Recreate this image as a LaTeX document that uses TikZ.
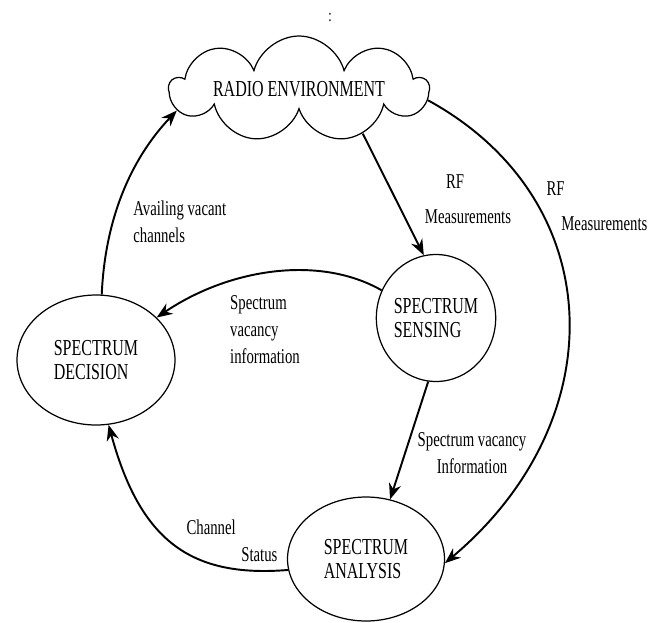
\documentclass[tikz,border=0pt]{standalone}
\usepackage{fontspec}
\setmainfont{Liberation Serif}[FakeStretch=0.7]
\usetikzlibrary{shapes.geometric,shapes.symbols,arrows.meta}

\tikzset{
  block/.style={ellipse,draw,line width=0.7pt,align=left,inner sep=0pt,
    font=\fontsize{13}{13.7}\selectfont},
  lbl/.style={align=left,inner sep=0pt,font=\fontsize{12}{15.4}\selectfont},
  arr/.style={-{Stealth[length=9pt,width=7pt]},line width=1.1pt},
}

\begin{document}
\begin{tikzpicture}[x=0.02cm,y=-0.02cm]

        \useasboundingbox (0,0) rectangle (661,622);

        \node (colon) at (330,18) {:};

        % the cloud and the three stages
        \node[cloud,draw,line width=0.7pt,cloud puffs=9,cloud ignores aspect,
          minimum width=5.16cm,minimum height=2.12cm,
          font=\fontsize{13}{13.7}\selectfont] (env) at (299,89) {RADIO ENVIRONMENT};
        \node[block,minimum width=3.16cm,minimum height=2.6cm]  (dec)  at (96,360)  {SPECTRUM\\DECISION};
        \node[block,minimum width=2.26cm,minimum height=2.54cm] (sens) at (436,318) {SPECTRUM\\SENSING};
        \node[block,minimum width=3.14cm,minimum height=2.48cm] (ana)  at (366,559) {SPECTRUM\\ANALYSIS};

        % connectors
        \draw[arr] (env.-35) -- (sens.101);
        \draw[arr] (env.-5) .. controls (610,200) and (615,420) .. (ana.-3);
        \draw[arr] (sens.153) .. controls (320,255) and (230,268) .. (dec.35);
        \draw[arr] (sens.-97) -- (ana.68);
        \draw[arr] (ana.188) .. controls (190,578) and (140,540) .. (dec.-79);
        \draw[arr] (dec.85) .. controls (105,220) and (130,160) .. (env.-170);

        % labels
        \node[lbl] (rfin)  at (468,199) {\hspace*{1em}RF\\[1.5mm]Measurements};
        \node[lbl] (rfout) at (597,206) {RF\\[1.5mm]\hspace*{0.7em}Measurements};
        \node[lbl] (vacinfo) at (265,330) {Spectrum\\vacancy\\information};
        \node[lbl,align=center] (vacana) at (472,453) {Spectrum vacancy\\Information};
        \node[lbl,anchor=west] (avail) at (133,222) {Availing vacant\\channels};
        \node[lbl] (status) at (232,541) {Channel\\\hspace*{2.6em}Status};

      \end{tikzpicture}
\end{document}
